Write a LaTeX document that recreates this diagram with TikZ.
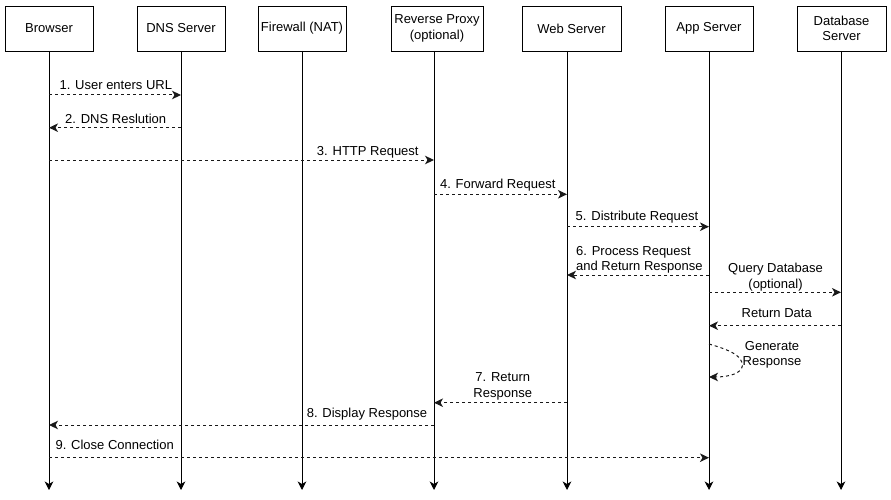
\documentclass[tikz,border=0pt]{standalone}
\usepackage{fontspec}
\setmainfont{Liberation Sans}
\usetikzlibrary{arrows.meta}
\newcommand\fsz{\fontsize{13}{15.5}\selectfont}
\begin{document}
\begin{tikzpicture}[x=1pt,y=-1pt,
  actor/.style={draw=black, line width=0.9pt, fill=white, minimum width=88pt, minimum height=45pt, inner sep=0pt, align=center, font=\fsz},
  life/.style={draw=black, line width=0.9pt, -{Stealth[length=8.5pt,width=8.5pt,inset=2.5pt]}},
  msg/.style={draw=black!90, line width=1pt, dash pattern=on 3pt off 3pt, -{Stealth[length=9pt,width=8.5pt,inset=2.5pt]}},
  lbl/.style={font=\fsz, inner sep=0pt, anchor=base},
  mlbl/.style={font=\fsz, inner sep=0pt, align=center},
]
\useasboundingbox (0,0) rectangle (891,500);
\fill[white] (0,0) rectangle (891,500);

% participants
\node[actor] (browser) at (49,28.5) {Browser};
\node[actor] (dns) at (181,28.5) {DNS Server};
\node[actor] (fw) at (302,28.5) {Firewall (NAT)};
\node[actor, minimum width=92pt] (rp) at (437,28.5) {Reverse Proxy\\(optional)};
\node[actor, minimum width=99pt] (web) at (571.5,28.5) {Web Server};
\node[actor] (app) at (709,28.5) {App Server};
\node[actor, minimum width=89pt] (db) at (841.5,28.5) {Database\\Server};

% lifeline tops and ends
\coordinate (Lbr) at (49,51);   \coordinate (Bbr) at (49,490);
\coordinate (Ldns) at (181,51); \coordinate (Bdns) at (181,490);
\coordinate (Lfw) at (302,51);  \coordinate (Bfw) at (302,490);
\coordinate (Lrp) at (434,51);  \coordinate (Brp) at (434,490);
\coordinate (Lweb) at (567,51); \coordinate (Bweb) at (567,490);
\coordinate (Lapp) at (709,51); \coordinate (Bapp) at (709,490);
\coordinate (Ldb) at (841,51);  \coordinate (Bdb) at (841,490);

\draw[life] (Lbr) -- (Bbr);
\draw[life] (Ldns) -- (Bdns);
\draw[life] (Lfw) -- (Bfw);
\draw[life] (Lrp) -- (Brp);
\draw[life] (Lweb) -- (Bweb);
\draw[life] (Lapp) -- (Bapp);
\draw[life] (Ldb) -- (Bdb);

% message rows
\coordinate (r1) at (0,95);
\coordinate (r2) at (0,127.7);
\coordinate (r3) at (0,160);
\coordinate (r4) at (0,194.3);
\coordinate (r5) at (0,226.7);
\coordinate (r6) at (0,275);
\coordinate (r7) at (0,292.3);
\coordinate (r8) at (0,325.7);
\coordinate (r9a) at (0,344);
\coordinate (r9b) at (0,377);
\coordinate (r10) at (0,402.7);
\coordinate (r11) at (0,425);
\coordinate (r12) at (0,457.7);

\draw[msg] (Lbr |- r1) -- node[lbl, pos=.506, yshift=5pt] {1. User enters URL} (Ldns |- r1);
\draw[msg] (Ldns |- r2) -- node[lbl, pos=.495, yshift=4.4pt] {2. DNS Reslution} (Lbr |- r2);
\draw[msg] (Lbr |- r3) -- node[lbl, pos=.828, yshift=5pt] {3. HTTP Request} (Lrp |- r3);
\draw[msg] (Lrp |- r4) -- node[lbl, pos=.479, yshift=6pt] {4. Forward Request} (Lweb |- r4);
\draw[msg] (Lweb |- r5) -- node[lbl, pos=.493, yshift=6.7pt] {5. Distribute Request} (Lapp |- r5);
\draw[msg] (Lapp |- r6) -- node[mlbl, align=left, anchor=west, pos=.939, yshift=15.4pt] {6. Process Request\\and Return Response} (Lweb |- r6);
\draw[msg] (Lapp |- r7) -- node[mlbl, pos=.504, yshift=15.1pt] {Query Database\\(optional)} (Ldb |- r7);
\draw[msg] (Ldb |- r8) -- node[lbl, pos=.487, yshift=8.4pt] {Return Data} (Lapp |- r8);

\coordinate (gmid) at (742.3,366);
\draw[msg] (Lapp |- r9a) .. controls (730,350) and (743,356) .. (gmid)
  .. controls (741.5,373) and (730,377) .. (Lapp |- r9b);
\node[mlbl] (gen) at (772,354.6) {Generate\\Response};

\draw[msg] (Lweb |- r10) -- node[mlbl, pos=.483, yshift=16.5pt] {7. Return\\Response} (Lrp |- r10);
\draw[msg] (Lrp |- r11) -- node[lbl, pos=.174, yshift=7.7pt] {8. Display Response} (Lbr |- r11);
\draw[msg] (Lbr |- r12) -- node[lbl, pos=.0995, yshift=8.7pt] {9. Close Connection} (Lapp |- r12);
\end{tikzpicture}
\end{document}
